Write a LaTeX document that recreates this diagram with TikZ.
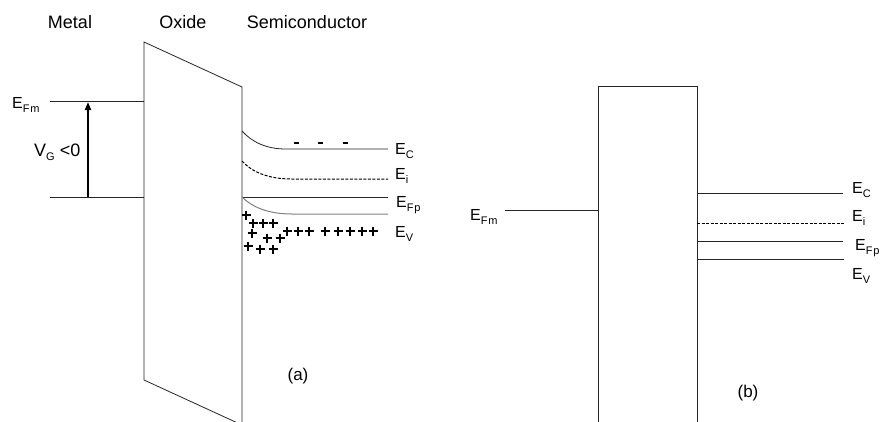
\documentclass[tikz,border=0pt]{standalone}
\usepackage{fontspec}
\setmainfont{Liberation Sans}
\usetikzlibrary{arrows.meta}
\newcommand\lvsb[1]{\raisebox{-4.5pt}{\fontsize{11}{11}\selectfont\addfontfeature{LetterSpace=8}#1}}
\newcommand\lvE[1]{E\lvsb{#1}}
\begin{document}
\begin{tikzpicture}[x=1pt,y=-1pt,
  band/.style={line width=0.8pt, draw=black!85},
  greyband/.style={line width=1pt, draw=black!50},
  dband/.style={line width=1pt, draw=black, dash pattern=on 3pt off 1.5pt},
  lbl/.style={font=\fontsize{16}{16}\selectfont, inner sep=0pt, anchor=base west},
  ttl/.style={font=\fontsize{18}{18}\selectfont, inner sep=0pt, anchor=base},
  captxt/.style={font=\fontsize{17}{17}\selectfont, inner sep=0pt},
  plusmark/.style={line width=1.8pt},
  chargedash/.style={line width=1.8pt},
  vgarrow/.style={line width=1.8pt, -{Triangle[length=8pt,width=6pt]}},
]
\useasboundingbox (0,0) rectangle (880,421);
\clip (0,0) rectangle (880,421);

% titles
\node[ttl] (tm) at (70,28) {Metal};
\node[ttl] (to) at (183,28) {Oxide};
\node[ttl] (ts) at (307,28) {Semiconductor};

% ---------- panel (a) ----------
\coordinate (oxtl) at (144,42);
\coordinate (oxtr) at (242,87);
\coordinate (oxbl) at (144,380);
\coordinate (oxbr) at (242,425);
\draw[band] (oxbr) -- (oxtr) -- (oxtl) -- (oxbl) -- (oxbr);

\coordinate (mfa) at (50,101);
\coordinate (mba) at (50,197);
\draw[band] (mfa) -- (mfa -| oxtl);
\draw[band] (mba) -- (mba -| oxtl);
\coordinate (arb) at (88,197);
\coordinate (art) at (88,102);
\draw[vgarrow] (arb) -- (art);

\node[lbl] (efma) at (12,108) {\lvE{Fm}};
\node[lbl, font=\fontsize{18}{18}\selectfont] (vg) at (34,156) {V\lvsb{G} <0};

% bands
\coordinate (eca) at (242,131);
\coordinate (ecae) at (388,149);
\draw[band] (eca) .. controls (252,142) and (266,149) .. (286,149) -- (ecae);
\coordinate (eia) at (242,161);
\coordinate (eiae) at (388,179);
\draw[dband] (eia) .. controls (252,172) and (268,179) .. (292,179) -- (eiae);
\coordinate (efpa) at (242,197);
\coordinate (efpae) at (388,197);
\draw[band] (efpa) -- (efpae);
\coordinate (eva) at (242,197);
\coordinate (evae) at (388,214);
\draw[greyband] (eva) .. controls (252,207) and (268,214) .. (292,214) -- (evae);

\node[lbl] (lca) at (395,154) {\lvE{C}};
\node[lbl] (lia) at (395,179) {\lvE{i}};
\node[lbl] (lfpa) at (396,207) {\lvE{Fp}};
\node[lbl] (lva) at (395,237) {\lvE{V}};

% electrons
\foreach \x in {296,320,345} \draw[chargedash] (\x-2.5,143) -- (\x+2.5,143);
% holes
\foreach \x/\y in {246/215, 253/223, 263/223, 273/223, 252/233, 267/238, 280/238,
  248/246, 260/249, 273/249,
  287/231, 298/231, 309/231, 325/231, 338/231, 350/231, 362/231, 373/231}
  \draw[plusmark] (\x-4.5,\y) -- (\x+4.5,\y) (\x,\y-4.5) -- (\x,\y+4.5);

\node[captxt] (la) at (298,376) {(a)};

% ---------- panel (b) ----------
\coordinate (rbl) at (598,425);
\coordinate (rtl) at (598,86);
\coordinate (rtr) at (697,86);
\coordinate (rbr) at (697,425);
\draw[band] (rbl) -- (rtl) -- (rtr) -- (rbr);

\coordinate (efmb) at (505,210);
\draw[band] (efmb) -- (efmb -| rtl);
\coordinate (ecb) at (843,193);
\coordinate (eib) at (845,223);
\coordinate (efpb) at (843,241);
\coordinate (evb) at (844,259);
\draw[band] (ecb -| rtr) -- (ecb);
\draw[dband] (eib -| rtr) -- (eib);
\draw[band] (efpb -| rtr) -- (efpb);
\draw[band] (evb -| rtr) -- (evb);

\node[lbl] (lefmb) at (470,220) {\lvE{Fm}};
\node[lbl] (lcb) at (852,193) {\lvE{C}};
\node[lbl] (lib) at (852,221) {\lvE{i}};
\node[lbl] (lfpb) at (855,250) {\lvE{Fp}};
\node[lbl] (lvb) at (852,279) {\lvE{V}};

\node[captxt] (lb) at (748,393) {(b)};
\end{tikzpicture}
\end{document}
